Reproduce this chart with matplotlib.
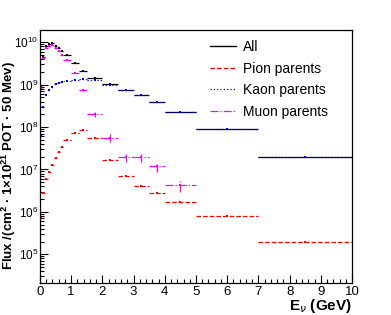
import numpy as np
import matplotlib
matplotlib.use("Agg")
import matplotlib.pyplot as plt
from matplotlib.lines import Line2D
from matplotlib.ticker import LogLocator, MultipleLocator, NullFormatter

plt.rcParams['font.family'] = ['Liberation Sans', 'DejaVu Sans']
plt.rcParams['mathtext.fontset'] = 'custom'
plt.rcParams['mathtext.rm'] = 'Liberation Sans'
plt.rcParams['mathtext.bf'] = 'Liberation Sans:bold'

# bin edges in GeV
edges = [0, 0.05, 0.15, 0.25, 0.35, 0.45, 0.55, 0.65, 0.75, 1.0, 1.25, 1.5,
         2.0, 2.5, 3.0, 3.5, 4.0, 5.0, 7.0, 10.0]

all_flux = [9.0e8, 4.6e9, 8.2e9, 9.0e9, 9.4e9, 8.3e9, 7.4e9, 6.2e9, 5.0e9,
            3.2e9, 2.1e9, 1.4e9, 1.05e9, 7.7e8, 5.7e8, 4.0e8, 2.3e8, 8.9e7, 1.95e7]
pion_flux = [7.2e5, 2.8e6, 6.0e6, 8.8e6, 1.3e7, 1.9e7, 2.6e7, 3.4e7, 5.0e7,
             7.3e7, 8.5e7, 5.6e7, 1.66e7, 7.0e6, 4.1e6, 2.75e6, 1.74e6, 7.8e5, 2.0e5]
kaon_flux = [6.5e7, 3.0e8, 5.7e8, 7.5e8, 8.9e8, 1.02e9, 1.1e9, 1.15e9, 1.23e9,
             1.3e9, 1.35e9, 1.3e9, 9.8e8, 7.5e8, 5.6e8, 3.9e8, 2.25e8, 8.8e7, 1.95e7]
muon_flux = [8.3e8, 4.2e9, 7.5e9, 8.3e9, 8.6e9, 7.2e9, 6.2e9, 5.0e9, 3.8e9,
             1.9e9, 7.4e8, 2.0e8, 5.6e7, 2.0e7, 2.0e7, 1.2e7, 4.2e6, np.nan, np.nan]
muon_rel_err = [0.01, 0.01, 0.01, 0.01, 0.01, 0.01, 0.01, 0.01, 0.01,
                0.02, 0.05, 0.15, 0.2, 0.25, 0.25, 0.27, 0.3, 0, 0]

edges = np.array(edges)
centers = 0.5 * (edges[:-1] + edges[1:])
half = 0.5 * np.diff(edges)

fig = plt.figure(figsize=(3.91, 3.15), dpi=100)
ax = fig.add_axes([40 / 391, 1 - 283 / 315, 312 / 391, 253 / 315])


def draw(vals, color, ls, cap, yerr=None):
    vals = np.array(vals, dtype=float)
    eb = ax.errorbar(centers, vals, xerr=half, yerr=yerr, fmt='s', ms=2,
                     color=color, ecolor=color, elinewidth=0.9,
                     capsize=cap, capthick=0.8, mew=0)
    for lc in eb[2]:
        lc.set_linestyle(ls)
    return eb


draw(all_flux, 'black', '-', 2)
draw(kaon_flux, '#0000ff', ':', 1.5)
m = np.array(muon_flux)
merr = m * np.array(muon_rel_err)
draw(muon_flux, '#ff00ff', '-.', 1.5, yerr=merr)
draw(pion_flux, '#ff0000', '--', 1)

ax.set_yscale('log')
ax.set_xlim(0, 10)
ax.set_ylim(2.1e4, 1.95e10)

ax.xaxis.set_major_locator(MultipleLocator(1))
ax.xaxis.set_minor_locator(MultipleLocator(0.2))
ax.yaxis.set_major_locator(LogLocator(base=10, numticks=20))
ax.yaxis.set_minor_locator(LogLocator(base=10, subs=np.arange(2, 10), numticks=50))
ax.yaxis.set_minor_formatter(NullFormatter())
ax.tick_params(which='both', direction='in', top=False, right=False)
ax.tick_params(which='major', length=6, width=0.8)
ax.tick_params(which='minor', length=3, width=0.8)
ax.tick_params(axis='x', pad=2, labelsize=9.5)
ax.tick_params(axis='y', pad=1, labelsize=8.5)

for s in ax.spines.values():
    s.set_linewidth(0.9)

fig.text(9 / 391, 1 - 166 / 315,
         'Flux /(cm$^{\\mathbf{2}}$ · 1×10$^{\\mathbf{21}}$ POT · 50 Mev)',
         fontsize=9.5, fontweight='bold', rotation=90, ha='center', va='center')
fig.text(352 / 391, 1 - 306 / 315, 'E$_{\\nu}$ (GeV)', fontsize=11,
         fontweight='bold', ha='right', va='center')

handles = [Line2D([], [], color='black', ls='-', lw=1),
           Line2D([], [], color='#ff0000', ls='--', lw=0.9),
           Line2D([], [], color='#0000ff', ls=':', lw=0.9),
           Line2D([], [], color='#ff00ff', ls='-.', lw=0.9)]
labels = ['All', 'Pion parents', 'Kaon parents', 'Muon parents']
fig.legend(handles, labels, loc='upper left',
           bbox_to_anchor=(210 / 391, 1 - 40 / 315), frameon=False,
           fontsize=10, handlelength=1.9, handletextpad=0.5,
           labelspacing=0.55, borderpad=0, borderaxespad=0)

fig.savefig('out.png', dpi=100)
